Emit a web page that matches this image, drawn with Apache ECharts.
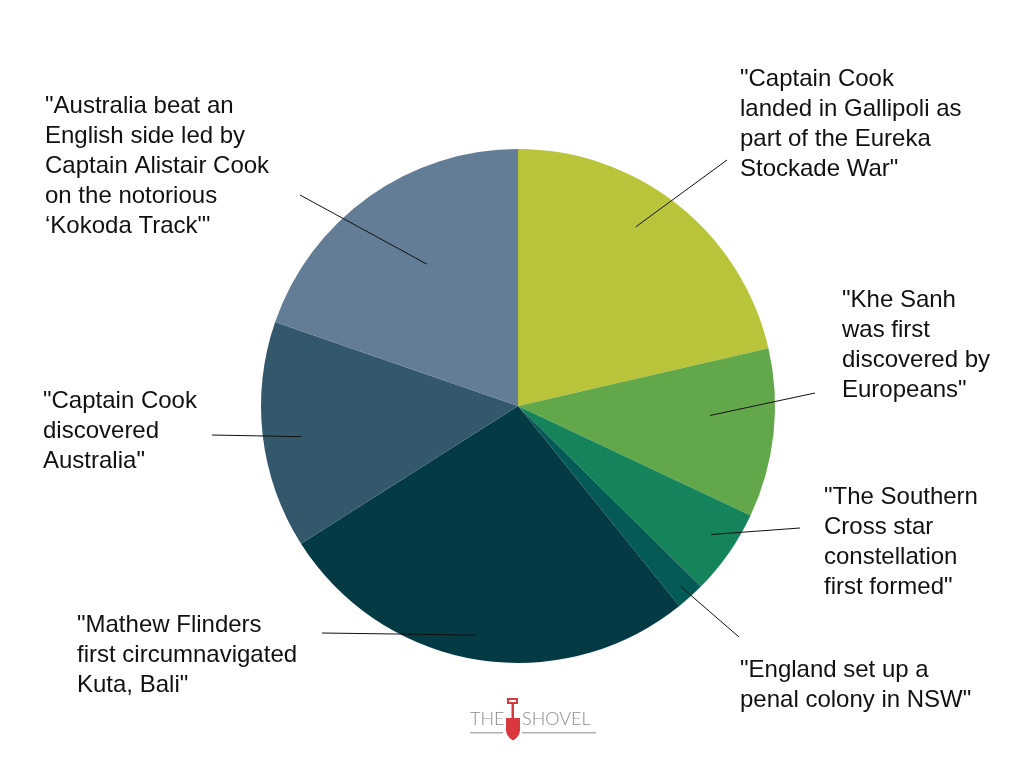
<!DOCTYPE html>
<html>
<head>
<meta charset="utf-8">
<script src="https://cdn.jsdelivr.net/npm/echarts@6/dist/echarts.min.js"></script>
<style>html,body{margin:0;padding:0;background:#fff}#c{width:1024px;height:768px}</style>
</head>
<body>
<div id="c"></div>
<script>
var categories = [
  "\"Captain Cook\nlanded in Gallipoli as\npart of the Eureka\nStockade War\"",
  "\"Khe Sanh\nwas first\ndiscovered by\nEuropeans\"",
  "\"The Southern\nCross star\nconstellation\nfirst formed\"",
  "\"England set up a\npenal colony in NSW\"",
  "\"Mathew Flinders\nfirst circumnavigated\nKuta, Bali\"",
  "\"Captain Cook\ndiscovered\nAustralia\"",
  "\"Australia beat an\nEnglish side led by\nCaptain Alistair Cook\non the notorious\n\u2018Kokoda Track\"'"
];
var values = [21.4, 10.6, 5.4, 1.8, 26.8, 14.3, 19.7];
var colors = ['#b9c43b', '#62a84a', '#15845b', '#045b55', '#033a44', '#33586c', '#637d96'];

// label layout: [textLeft, textTop, lineEndX, lineEndY, innerRadiusFraction, angleOffsetDeg]
var labelSpots = [
  [740, 64, 727, 160, 0.834, -5.2],
  [842, 285, 815, 393, 0.748, -3.3],
  [824, 482, 800, 528, 0.903, -1.3],
  [740, 655, 739, 637, 0.945, 0.1],
  [77, 610, 322, 633, 0.906, 0.9],
  [43, 386, 212, 435, 0.852, -1.4],
  [45, 91, 300, 195, 0.656, 2.75]
];

var cx = 518, cy = 406, R = 257;
var total = values.reduce(function(a, b){ return a + b; }, 0);
var midAngles = [];
(function(){ var acc = 0; values.forEach(function(v){ midAngles.push((acc + v / 2) / total * 360); acc += v; }); })();

var pieData = categories.map(function(c, i){ return { name: c, value: values[i], itemStyle: { color: colors[i] } }; });

var chart = echarts.init(document.getElementById('c'));
chart.setOption({
  backgroundColor: '#ffffff',
  animation: false,
  series: [{
    type: 'pie',
    z: 2,
    center: [cx, cy],
    radius: [0, R],
    startAngle: 90,
    clockwise: true,
    data: pieData,
    itemStyle: { borderWidth: 0 },
    emphasis: { disabled: true },
    label: { show: false },
    labelLine: { show: false }
  }, {
    type: 'pie',
    z: 5,
    silent: true,
    center: [cx, cy],
    radius: [0, R],
    startAngle: 90,
    clockwise: true,
    data: categories.map(function(c, i){ return { name: c, value: values[i] }; }),
    itemStyle: { color: 'rgba(0,0,0,0)', borderWidth: 0 },
    emphasis: { disabled: true },
    label: {
      show: true,
      position: 'outside',
      formatter: '{b}',
      color: '#111',
      fontFamily: 'Liberation Sans, Arial, sans-serif',
      fontSize: 24,
      lineHeight: 30,
      align: 'left'
    },
    labelLine: { show: true, lineStyle: { color: '#111', width: 1 }, length: 10, length2: 10 },
    labelLayout: function(p){
      var s = labelSpots[p.dataIndex];
      var a = (midAngles[p.dataIndex] + s[5]) * Math.PI / 180;
      var r = R * s[4];
      var ix = cx + r * Math.sin(a), iy = cy - r * Math.cos(a);
      return {
        x: s[0], y: s[1], align: 'left', verticalAlign: 'top',
        labelLinePoints: [[ix, iy], [(ix + s[2]) / 2, (iy + s[3]) / 2], [s[2], s[3]]]
      };
    }
  }],
  graphic: [
    { type: 'text', x: 470, y: 710, style: { text: 'THE', fill: '#8a8a8a', font: '300 18px Lato, sans-serif' } },
    { type: 'text', x: 522, y: 710, style: { text: 'SHOVEL', fill: '#8a8a8a', font: '300 18px Lato, sans-serif' } },
    { type: 'rect', shape: { x: 470, y: 732, width: 33, height: 1.5 }, style: { fill: '#b0b0b0' } },
    { type: 'rect', shape: { x: 522, y: 732, width: 74, height: 1.5 }, style: { fill: '#b0b0b0' } },
    { type: 'rect', shape: { x: 508, y: 699, width: 9, height: 4 }, style: { fill: 'none', stroke: '#d9393e', lineWidth: 2 } },
    { type: 'rect', shape: { x: 511.5, y: 703, width: 2.5, height: 16 }, style: { fill: '#d9393e' } },
    { type: 'polygon', shape: { points: [[506,718],[520,718],[520,731],[519,734.5],[516.5,738],[513,740.5],[509.5,738],[507,734.5],[506,731]] }, style: { fill: '#d9393e' } }
  ]
});
</script>
</body>
</html>
